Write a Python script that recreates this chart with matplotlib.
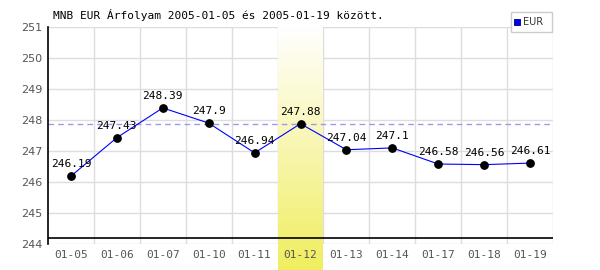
import numpy as np
import matplotlib
matplotlib.use("Agg")
import matplotlib.pyplot as plt
from matplotlib.colors import LinearSegmentedColormap

dates = ["01-05", "01-06", "01-07", "01-10", "01-11", "01-12",
         "01-13", "01-14", "01-17", "01-18", "01-19"]
rates = [246.19, 247.43, 248.39, 247.9, 246.94, 247.88,
         247.04, 247.1, 246.58, 246.56, 246.61]
highlight = "01-12"
title = "MNB EUR Árfolyam 2005-01-05 és 2005-01-19 között."

fig = plt.figure(figsize=(6, 2.7), dpi=100)
ax = fig.add_axes([48 / 600, 1 - 244 / 270, 505 / 600, 217 / 270])

x = np.arange(len(dates))

# grid
for gx in np.arange(0.5, len(dates), 1.0):
    ax.axvline(gx, color="#dddddd", lw=1, zorder=0)
for gy in range(244, 252):
    ax.axhline(gy, color="#dddddd", lw=1, zorder=0)

# highlighted day band with vertical gradient
hi = dates.index(highlight)
cmap = LinearSegmentedColormap.from_list("band", ["#ffffff", "#f8f6b0", "#f0ee60"])
grad = np.linspace(0, 1, 100).reshape(-1, 1)
ax.imshow(grad, cmap=cmap, aspect="auto", origin="upper",
          extent=[hi - 0.48, hi + 0.48, 243.16, 251.03], zorder=1, clip_on=False)
ax.set_xlim(-0.5, len(dates) - 0.5)
ax.set_ylim(244, 251)

ax.axhline(rates[hi], color="#9999ee", lw=1, ls=(0, (4, 3)), zorder=2)

ax.plot(x, rates, color="#0000ff", lw=0.8, zorder=3)
ax.scatter(x, rates, s=28, color="black", zorder=4)
for xi, v in zip(x, rates):
    ax.annotate(f"{v:g}", (xi, v), xytext=(0, 5), textcoords="offset points",
                ha="center", va="bottom", fontsize=8,
                family="DejaVu Sans Mono", color="black", zorder=5)

for s in ["top", "right", "bottom"]:
    ax.spines[s].set_visible(False)
ax.spines["left"].set_color("black")
ax.spines["left"].set_linewidth(1.2)
ax.axhline(244.19, color="black", lw=1.2, zorder=2)

ax.set_xticks(x)
ax.set_xticklabels(dates)
ax.set_yticks(range(244, 252))
ax.tick_params(length=0, labelsize=8, colors="#555555", pad=4)
for lab in ax.get_xticklabels():
    lab.set_family("DejaVu Sans Mono")

fig.text(53 / 600, 1 - 15 / 270, title, fontsize=8, family="DejaVu Sans Mono",
         va="center", ha="left", color="black")

# legend box
fig.patches.append(plt.Rectangle((511 / 600, 1 - 32 / 270), 41 / 600, 20 / 270,
                                 transform=fig.transFigure, fill=True,
                                 facecolor="white", edgecolor="#cccccc", lw=1))
fig.patches.append(plt.Rectangle((514 / 600, 1 - 25 / 270), 6 / 600, 6 / 270,
                                 transform=fig.transFigure, facecolor="#0000ff",
                                 edgecolor="#000066", lw=0.6))
fig.text(523 / 600, 1 - 22 / 270, "EUR", fontsize=7, color="#333333",
         va="center", ha="left")

fig.savefig("out.png", dpi=100)
